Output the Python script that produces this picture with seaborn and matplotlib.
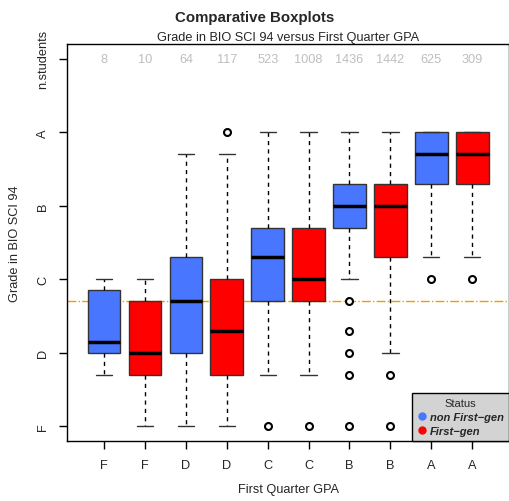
import matplotlib
matplotlib.use("Agg")
import matplotlib.pyplot as plt
import seaborn as sns
from matplotlib.lines import Line2D

# grade points: F=0, D=1, C=2, B=3, A=4
gpa_labels = ["F", "F", "D", "D", "C", "C", "B", "B", "A", "A"]
status = ["non", "first"] * 5
n_students = [8, 10, 64, 117, 523, 1008, 1436, 1442, 625, 309]
q1 = [1.0, 0.7, 1.0, 0.7, 1.7, 1.7, 2.7, 2.3, 3.3, 3.3]
median = [1.15, 1.0, 1.7, 1.3, 2.3, 2.0, 3.0, 3.0, 3.7, 3.7]
q3 = [1.85, 1.7, 2.3, 2.0, 2.7, 2.7, 3.3, 3.3, 4.0, 4.0]
whisk_lo = [0.7, 0.0, 0.0, 0.0, 0.7, 0.7, 2.0, 1.0, 2.3, 2.3]
whisk_hi = [2.0, 2.0, 3.7, 3.7, 4.0, 4.0, 4.0, 4.0, 4.0, 4.0]
outliers = [[], [], [], [4.0], [0.0], [0.0],
            [1.7, 1.3, 1.0, 0.7, 0.0], [0.7, 0.0], [2.0], [2.0]]
ref_line = 1.7

grade_ticks = ["F", "D", "C", "B", "A", "n.students"]
palette = {"non": "#4876FF", "first": "#FF0000"}
legend_labels = {"non": "non First\u2212gen", "first": "First\u2212gen"}

sns.set_theme(style="white")
plt.rcParams["font.family"] = ["Liberation Sans", "DejaVu Sans"]

fs = 9.2

fig = plt.figure(figsize=(5.1, 5.02), dpi=100)
ax = fig.add_axes([0.132, 0.12, 0.866, 0.79])

stats = []
for i in range(len(n_students)):
    stats.append(dict(q1=q1[i], med=median[i], q3=q3[i],
                      whislo=whisk_lo[i], whishi=whisk_hi[i],
                      fliers=outliers[i]))
positions = list(range(1, len(stats) + 1))

ax.axhline(ref_line, color="#EBA000", lw=1, ls="-.", zorder=1)

bp = ax.bxp(stats, positions=positions, widths=0.8, patch_artist=True,
            showfliers=True,
            boxprops=dict(edgecolor="#333333", linewidth=1),
            medianprops=dict(color="black", linewidth=2.5),
            whiskerprops=dict(color="black", linewidth=1, linestyle=(0, (3, 3))),
            capprops=dict(color="#333333", linewidth=1),
            flierprops=dict(marker="o", markerfacecolor="white",
                            markeredgecolor="black", markersize=5,
                            markeredgewidth=1.5),
            capwidths=0.4, zorder=2)
for patch, s in zip(bp["boxes"], status):
    patch.set_facecolor(palette[s])

for pos, n in zip(positions, n_students):
    ax.text(pos, 5, str(n), ha="center", va="center", color="#BEBEBE", fontsize=fs)

ax.set_xlim(0.1, 10.9)
ax.set_ylim(-0.2, 5.2)
ax.set_xticks(positions)
ax.set_xticklabels(gpa_labels, fontsize=fs)
ax.set_yticks(range(len(grade_ticks)))
ax.set_yticklabels(grade_ticks, rotation=90, va="center", fontsize=fs)
ax.tick_params(axis="both", direction="out", length=6, width=1, color="black",
               bottom=True, left=True, pad=7)
for sp in ax.spines.values():
    sp.set_color("black")
    sp.set_linewidth(1)

ax.set_xlabel("First Quarter GPA", fontsize=fs, labelpad=9)
ax.set_ylabel("Grade in BIO SCI 94", fontsize=fs, labelpad=12)
ax.set_title("Grade in BIO SCI 94 versus First Quarter GPA", fontsize=fs, pad=3)
fig.suptitle("Comparative Boxplots", fontsize=10.8, fontweight="bold", y=0.978)

handles = [Line2D([0], [0], marker="o", ls="", markersize=5,
                  markerfacecolor=palette[k], markeredgecolor=palette[k],
                  label=legend_labels[k]) for k in ["non", "first"]]
leg = ax.legend(handles=handles, title="Status", loc="lower right",
                frameon=True, fancybox=False, facecolor="#D3D3D3",
                edgecolor="black", framealpha=1, borderaxespad=0,
                handletextpad=0.2, handlelength=1, labelspacing=0.35,
                borderpad=0.45,
                prop=dict(size=8, weight="bold", style="italic"),
                title_fontsize=8)
leg.get_frame().set_linewidth(1)

fig.savefig("out.png", dpi=100)
